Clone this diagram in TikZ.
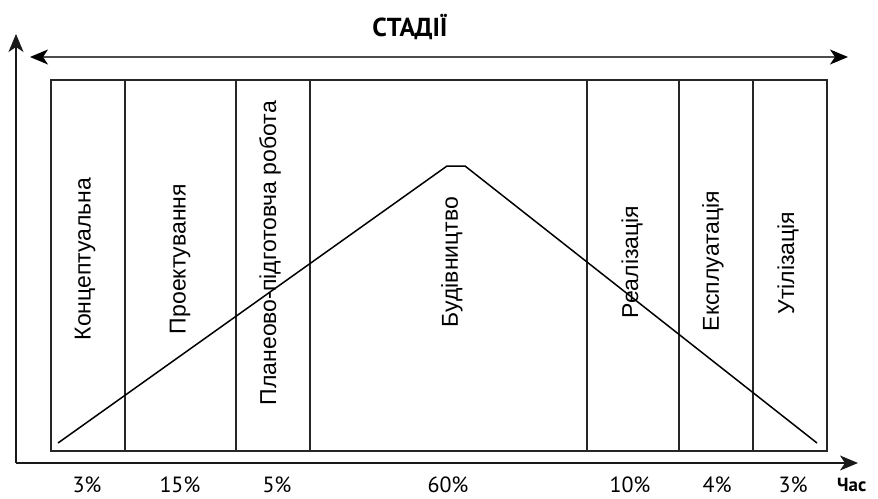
\documentclass[tikz,border=0pt]{standalone}
\usepackage{fontspec}
\setmainfont{Liberation Sans}
\newfontfamily\ptsans{PT Sans}
\usetikzlibrary{arrows.meta}

\begin{document}
\begin{tikzpicture}[x=1pt,y=-1pt,
  axisline/.style={draw=black!90,line width=1.3pt},
  tip/.style={-{Stealth[length=18pt,width=15pt,inset=5pt]}},
  spanline/.style={draw=black!70,line width=1.2pt,{Stealth[length=18pt,width=15pt,inset=5pt,black]}-{Stealth[length=18pt,width=15pt,inset=5pt,black]}},
  stagebox/.style={draw=black!85,line width=2pt},
  stagelabel/.style={rotate=90,font=\fontsize{23}{27}\selectfont,inner sep=0pt},
  pctlabel/.style={font=\ptsans\fontsize{22}{26}\selectfont,inner sep=0pt},
  trend/.style={draw=black,line width=1.5pt}]
\useasboundingbox (0,0) rectangle (878,498);
% axes
\coordinate (origin) at (16,463);
\coordinate (yend) at (16,34);
\coordinate (xend) at (858,463);
\draw[axisline,tip] (origin) -- (yend);
\draw[axisline,tip] (origin) -- (xend);
\node[font=\ptsans\bfseries\fontsize{19}{23}\selectfont,anchor=west,inner sep=0pt] (time) at (837,485) {Час};
% stages
\coordinate (spanl) at (30,57);
\coordinate (spanr) at (848,57);
\draw[spanline] (spanl) -- (spanr);
\node[font=\ptsans\bfseries\fontsize{26}{30}\selectfont,inner sep=0pt] (title) at (410,27) {СТАДІЇ};
\foreach \l/\r/\n/\tx/\ty/\txt/\px/\pct in {
  51/125/konc/85/259/Концептуальна/87/3\%,
  125/236/proekt/180/259/Проектування/180/15\%,
  236/310/plan/270/253/Планеово-підготовча робота/277/5\%,
  310/587/bud/452/262/Будівництво/448/60\%,
  587/679/real/632/262/Реалізація/630/10\%,
  679/753/ekspl/713/261/Експлуатація/717/4\%,
  753/827/util/788/263/Утілізація/793/3\%}{
  \coordinate (\n-nw) at (\l,80);
  \coordinate (\n-se) at (\r,451);
  \draw[stagebox] (\n-nw) rectangle (\n-se);
  \node[stagelabel] (\n-txt) at (\tx,\ty) {\txt};
  \node[pctlabel] (\n-pct) at (\px,485) {\pct};
}
% load curve
\coordinate (t0) at (58,443);
\coordinate (t1) at (447,166);
\coordinate (t2) at (465,166);
\coordinate (t3) at (817,443);
\draw[trend] (t0) -- (t1) -- (t2) -- (t3);
\end{tikzpicture}
\end{document}
